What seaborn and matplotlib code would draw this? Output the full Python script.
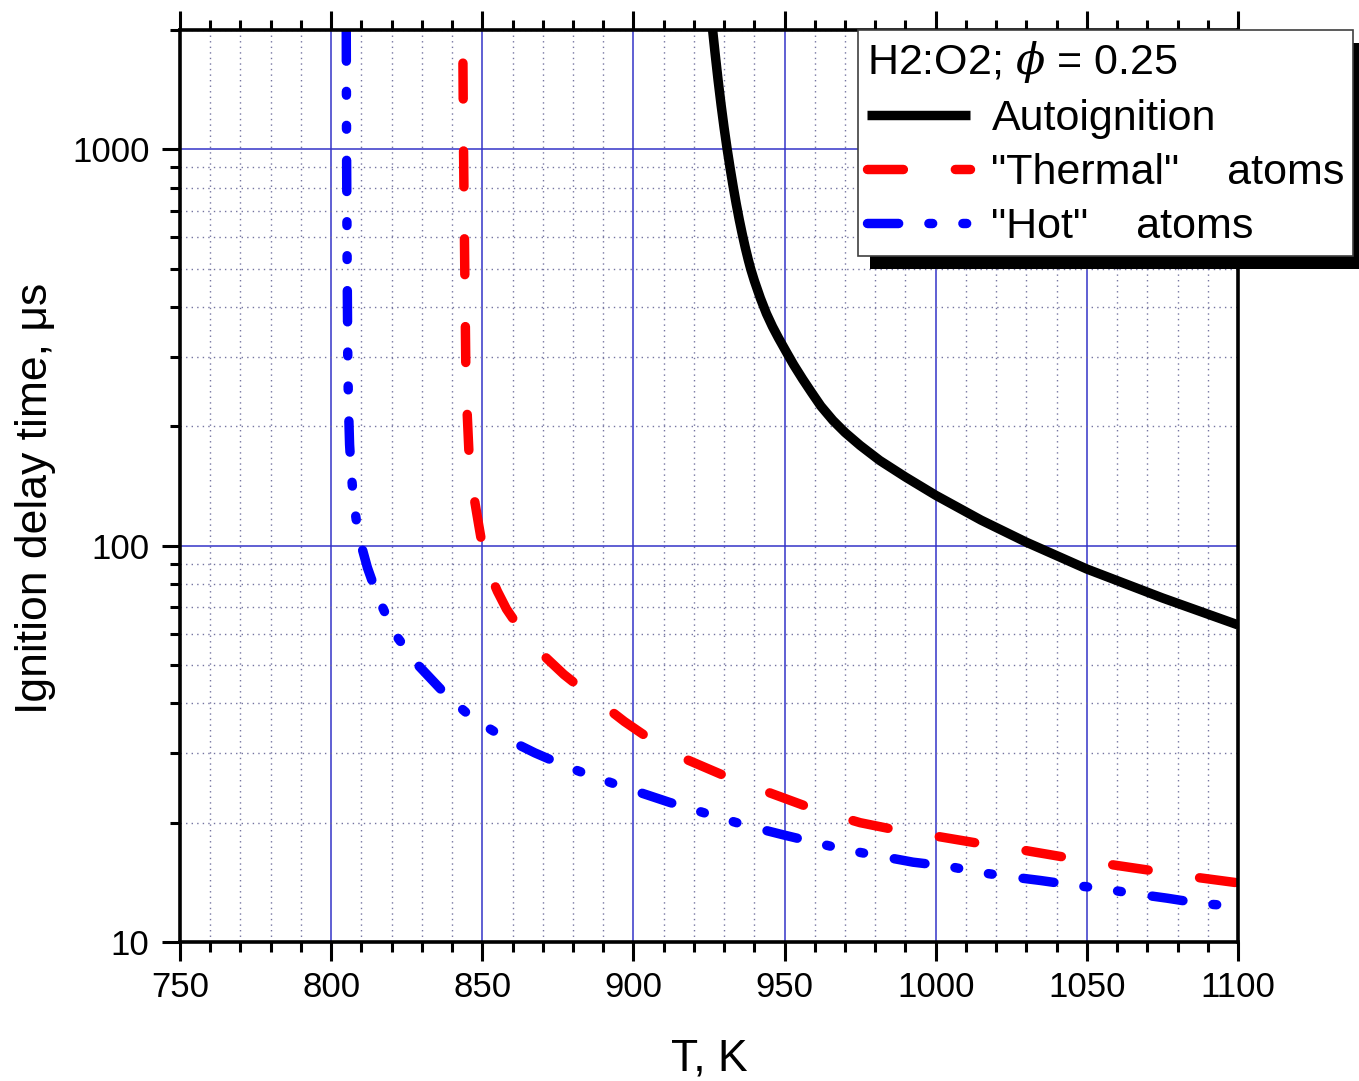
import matplotlib
matplotlib.use("Agg")
import matplotlib.pyplot as plt
import matplotlib.patches as mpatches
from matplotlib.ticker import FixedLocator, LogLocator, NullFormatter, FixedFormatter
import seaborn as sns
import pandas as pd

# Autoignition delay (black, solid)
auto_T = [926.2, 927.0, 928.0, 929.0, 930.0, 931.0, 932.0, 933.0, 934.0, 935.0,
          936.0, 937.0, 938.0, 938.8, 940.0, 942.0, 944.0, 946.0, 948.0, 950.8,
          953.0, 956.0, 959.0, 962.0, 966.0, 970.0, 975.0, 981.5, 990.0, 1000.0,
          1015.0, 1030.0, 1050.0, 1075.0, 1100.0]
auto_tau = [2000, 1750, 1496, 1294, 1132, 1002, 895, 805, 729, 665,
            611, 565, 526, 499, 466, 421, 385, 357, 334, 306,
            286, 263, 243, 225, 207, 193, 179, 164, 149, 134,
            116, 102, 87.3, 73.8, 63.1]

# Initiation by "thermal" atoms (red, dashed)
thermal_T = [843.6, 843.8, 844.2, 844.6, 845.0, 845.6, 846.5, 847.6, 848.8, 850.0,
             851.5, 853.0, 855.0, 858.0, 862.0, 866.0, 870.0, 877.0, 884.0, 890.0,
             897.0, 905.0, 917.0, 932.0, 945.0, 960.0, 975.0, 988.0, 1000.0, 1015.0,
             1028.0, 1042.0, 1055.0, 1070.0, 1085.0, 1100.0]
thermal_tau = [1650, 1000, 500, 260, 216, 171, 145, 128, 113, 100,
               90.2, 83.2, 76.7, 69.2, 62.4, 57.1, 53.1, 47.3, 42.9, 39.6,
               36.0, 32.7, 29.0, 25.9, 23.8, 21.6, 20.0, 19.1, 18.5, 17.7,
               17.1, 16.4, 15.8, 15.2, 14.6, 14.1]

# Initiation by "hot" atoms (blue, dash-dot-dot)
hot_T = [805.0, 805.1, 805.3, 805.5, 805.7, 806.1, 806.6, 807.4, 808.6, 810.0,
         812.0, 815.5, 821.0, 828.7, 838.7, 847.0, 857.5, 867.4, 878.4, 888.3,
         899.5, 912.0, 925.0, 937.0, 950.0, 970.0, 992.5, 1004.7, 1014.0, 1025.0,
         1034.5, 1046.0, 1056.0, 1067.0, 1076.5, 1088.0, 1100.0]
hot_tau = [2000, 1000, 500, 300, 230, 180, 155, 130, 112, 100,
           88, 74, 60, 50, 41.5, 36.6, 32.7, 30.0, 27.6, 25.9,
           24.2, 22.5, 21.0, 19.7, 18.6, 17.1, 15.9, 15.5, 15.0, 14.6,
           14.3, 13.9, 13.6, 13.2, 12.9, 12.5, 12.3]

x_major = [750, 800, 850, 900, 950, 1000, 1050, 1100]
y_major = [10, 100, 1000]
y_major_labels = ["10", "100", "1000"]

legend_title = "H2:O2; $\\phi$ = 0.25"
series_labels = ["Autoignition", '"Thermal"    atoms', '"Hot"    atoms']

sns.set_style("white")
plt.rcParams["font.family"] = ["Liberation Sans", "DejaVu Sans"]
plt.rcParams["mathtext.fontset"] = "dejavuserif"
plt.rcParams["text.color"] = "black"
plt.rcParams["axes.labelcolor"] = "black"
plt.rcParams["xtick.color"] = "black"
plt.rcParams["ytick.color"] = "black"

W, H = 1359, 1081
fig = plt.figure(figsize=(W / 100, H / 100), dpi=100)
ax = fig.add_axes([180 / W, 1 - 942 / H, (1238 - 180) / W, (942 - 30) / H])

lw = 6.8
specs = [
    (auto_T, auto_tau, "black", "-"),
    (thermal_T, thermal_tau, "#ff0000", (0, (3.8, 5.5))),
    (hot_T, hot_tau, "#0000ff", (0, (3.3, 3.2, 0.4, 3.2, 0.4, 3.3))),
]
handles = []
for (xs, ys, col, ls), lab in zip(specs, series_labels):
    df = pd.DataFrame({"T": xs, "tau": ys})
    sns.lineplot(data=df, x="T", y="tau", ax=ax, color=col, linewidth=lw,
                 linestyle=ls, estimator=None, sort=False, label=lab,
                 dash_capstyle="round", solid_capstyle="butt", solid_joinstyle="round")
    handles.append(ax.get_lines()[-1])
if ax.get_legend() is not None:
    ax.get_legend().remove()

ax.set_yscale("log")
ax.set_xlim(750, 1100)
ax.set_ylim(10, 2000)

ax.xaxis.set_major_locator(FixedLocator(x_major))
ax.xaxis.set_minor_locator(FixedLocator(list(range(750, 1101, 10))))
ax.yaxis.set_major_locator(FixedLocator(y_major))
ax.yaxis.set_major_formatter(FixedFormatter(y_major_labels))
ax.yaxis.set_minor_locator(LogLocator(base=10, subs=range(2, 10), numticks=20))
ax.yaxis.set_minor_formatter(NullFormatter())

# grid: blue solid major lines, dotted minor lines
ax.grid(True, which="major", color="#3434c8", linewidth=1.1, linestyle="-")
ax.grid(True, which="minor", color="#7474a0", linewidth=1.0, linestyle=(0, (1, 3)))
ax.set_axisbelow(True)

for s in ax.spines.values():
    s.set_linewidth(2.6)
    s.set_color("black")
    s.set_visible(True)

ax.tick_params(axis="x", which="both", direction="out", bottom=True, top=True,
               labelsize=25, pad=7, width=2.2, color="black", labelcolor="black")
ax.tick_params(axis="x", which="major", length=14)
ax.tick_params(axis="x", which="minor", length=7)
ax.tick_params(axis="y", which="both", direction="out", left=True, right=False,
               labelsize=25, pad=9, width=2.2, color="black", labelcolor="black")
ax.tick_params(axis="y", which="major", length=13)
ax.tick_params(axis="y", which="minor", length=7)

ax.set_xlabel("T, K", fontsize=32, labelpad=25, color="black")
ax.set_ylabel("Ignition delay time, μs", fontsize=32, va="center", color="black")
ax.yaxis.set_label_coords((36 - 180) / (1238 - 180), (942 - 498) / (942 - 30))

leg = fig.legend(handles=handles, labels=series_labels, title=legend_title,
                 loc="upper left", bbox_to_anchor=(858 / W, 1 - 30 / H),
                 borderaxespad=0, fontsize=31, title_fontsize=31,
                 alignment="left", frameon=True, fancybox=False, framealpha=1,
                 edgecolor="#404040", handlelength=2.4, handletextpad=0.5,
                 labelspacing=0.33, borderpad=0.2, labelcolor="black")
leg.get_frame().set_linewidth(1.2)
leg.get_title().set_color("black")
leg.set_zorder(6)

# solid offset shadow behind the legend box
fig.canvas.draw()
bb = leg.get_frame().get_window_extent()
shadow = mpatches.Rectangle(((bb.x0 + 12) / W, (bb.y0 - 13) / H), bb.width / W, bb.height / H,
                            transform=fig.transFigure, facecolor="black", edgecolor="none",
                            zorder=5)
fig.patches.append(shadow)

fig.savefig("out.png", dpi=100)
